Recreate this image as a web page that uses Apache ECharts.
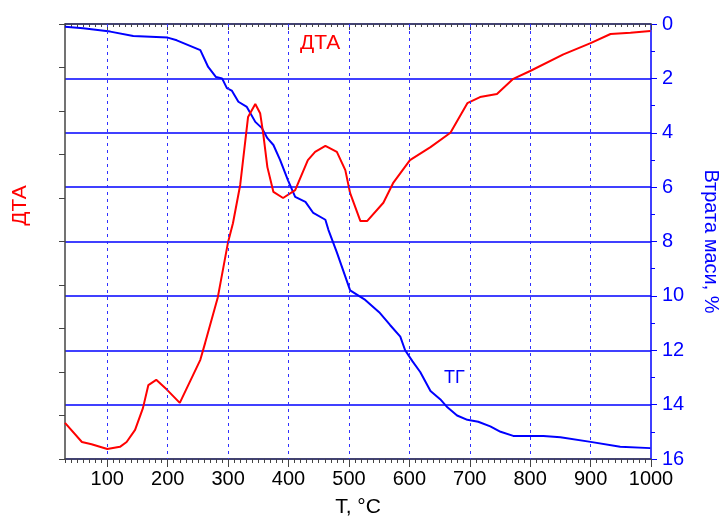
<!DOCTYPE html>
<html lang="uk" style="height: 100%">
<head>
  <meta charset="utf-8">
</head>
<body style="height: 100%; margin: 0; background: #fff">
  <div id="container" style="width: 721px; height: 517px"></div>

  <script type="text/javascript" src="https://cdn.jsdelivr.net/npm/echarts@6/dist/echarts.min.js"></script>

  <script type="text/javascript">
    // TG: mass loss, % (right axis, inverted)
    var tgTemp = [30, 60, 105, 143, 200, 215, 254, 267, 280, 290, 298, 306, 317, 331, 345, 356, 365, 375, 386, 399,
      411, 428, 441, 461, 466, 480, 502, 527, 550, 568, 585, 593, 605, 618, 635, 651, 663, 679, 696, 714,
      734, 751, 772, 822, 850, 900, 949, 999];
    var tgLoss = [0.1, 0.16, 0.28, 0.44, 0.5, 0.6, 0.96, 1.58, 1.95, 2.0, 2.36, 2.45, 2.86, 3.05, 3.6, 3.83, 4.2, 4.45, 5.0, 5.74,
      6.36, 6.54, 6.95, 7.2, 7.57, 8.4, 9.8, 10.15, 10.6, 11.07, 11.5, 12.0, 12.4, 12.8, 13.5, 13.8, 14.1, 14.4, 14.56, 14.63,
      14.8, 15.0, 15.15, 15.15, 15.2, 15.37, 15.55, 15.6];

    // DTA signal (left axis, arbitrary units)
    var dtaTemp = [30, 58, 74, 100, 121, 132, 146, 159, 168, 181, 199, 220, 254, 262, 283, 300, 308, 320, 333, 345,
      353, 358, 365, 375, 391, 411, 432, 444, 461, 480, 494, 502, 519, 530, 557, 573, 601, 635, 668, 696,
      717, 745, 772, 800, 855, 900, 933, 966, 999];
    var dtaVal = [0.83, 0.39, 0.34, 0.23, 0.28, 0.39, 0.67, 1.17, 1.7, 1.82, 1.59, 1.29, 2.28, 2.67, 3.72, 4.99, 5.42, 6.3, 7.86, 8.16,
      7.95, 7.49, 6.71, 6.14, 6.0, 6.18, 6.87, 7.06, 7.2, 7.06, 6.64, 6.11, 5.47, 5.47, 5.89, 6.34, 6.87, 7.17, 7.5, 8.18,
      8.32, 8.39, 8.74, 8.92, 9.3, 9.56, 9.77, 9.8, 9.84];

    var majorTemps = [100, 200, 300, 400, 500, 600, 700, 800, 900, 1000];
    var vGrid = [100, 200, 300, 400, 500, 600, 700, 800, 900];

    var FONT = '"Liberation Sans", Arial, sans-serif';
    var BLUE = '#0000ff';
    var RED = '#ff0000';

    function zip(a, b) {
      return a.map(function (v, i) { return [v, b[i]]; });
    }

    // bare x axis used only for tick marks
    function tickAxis(pos, inside, len, values) {
      var ax = {
        type: 'value', position: pos, min: 30, max: 1000, interval: 10,
        axisLine: { show: false },
        axisTick: { show: true, inside: inside, length: len, lineStyle: { color: '#444' } },
        axisLabel: { show: false },
        splitLine: { show: false }
      };
      if (values) ax.axisTick.customValues = values;
      return ax;
    }

    var chart = echarts.init(document.getElementById('container'), null, { renderer: 'canvas' });

    var option = {
      animation: false,
      grid: { left: 65, top: 24, right: 70, bottom: 58, containLabel: false, outerBoundsMode: 'none' },
      xAxis: [
        {
          type: 'value', position: 'bottom', min: 30, max: 1000, interval: 10,
          name: 'T, °C', nameLocation: 'middle', nameGap: 38,
          nameTextStyle: { color: '#000', fontSize: 21, fontFamily: FONT },
          axisLine: { lineStyle: { color: '#444', width: 1.5 } },
          axisTick: { length: 4, lineStyle: { color: '#444' } },
          axisLabel: {
            color: '#000', fontSize: 20, fontFamily: FONT, margin: 10,
            formatter: function (v) { return v % 100 === 0 ? String(v) : ''; }
          },
          splitLine: { show: false }
        },
        {
          type: 'value', position: 'top', min: 30, max: 1000, interval: 10,
          axisLine: { lineStyle: { color: '#444', width: 1.5 } },
          axisTick: { inside: true, length: 3, lineStyle: { color: '#444' } },
          axisLabel: { show: false },
          splitLine: { show: false }
        },
        tickAxis('bottom', false, 8, majorTemps),
        tickAxis('top', true, 6, majorTemps)
      ],
      yAxis: [
        {
          type: 'value', position: 'left', min: 0, max: 10, interval: 1,
          name: 'ДТА', nameLocation: 'middle', nameGap: 34, nameRotate: 90,
          nameTextStyle: { color: RED, fontSize: 21, fontFamily: FONT, padding: [0, 0, 0, 72] },
          axisLine: { show: true, lineStyle: { color: '#444', width: 1.5 } },
          axisTick: { show: true, length: 6, lineStyle: { color: '#444' } },
          axisLabel: { show: false },
          splitLine: { show: false }
        },
        {
          type: 'value', position: 'right', min: 0, max: 16, interval: 2, inverse: true,
          name: 'Втрата маси, %', nameLocation: 'middle', nameGap: 50, nameRotate: -90,
          nameTextStyle: { color: BLUE, fontSize: 20, fontFamily: FONT },
          axisLine: { show: true, lineStyle: { color: BLUE, width: 1.5 } },
          axisTick: { show: true, length: 6, lineStyle: { color: BLUE } },
          minorTick: { show: true, splitNumber: 2, length: 4, lineStyle: { color: BLUE } },
          axisLabel: { color: BLUE, fontSize: 20, fontFamily: FONT, margin: 11 },
          splitLine: { show: true, lineStyle: { color: BLUE, width: 1.5 } }
        }
      ],
      series: [
        {
          name: 'ТГ', type: 'line', xAxisIndex: 0, yAxisIndex: 1,
          data: zip(tgTemp, tgLoss), showSymbol: false, symbol: 'none',
          lineStyle: { color: BLUE, width: 2 }, z: 3,
          markLine: {
            silent: true, symbol: 'none', animation: false,
            label: { show: false },
            lineStyle: { color: '#3030ff', width: 1, type: [3, 4] },
            data: vGrid.map(function (v) { return { xAxis: v }; })
          }
        },
        {
          name: 'ДТА', type: 'line', xAxisIndex: 0, yAxisIndex: 0,
          data: zip(dtaTemp, dtaVal), showSymbol: false, symbol: 'none',
          lineStyle: { color: RED, width: 2 }, z: 4
        }
      ],
      graphic: [
        { type: 'text', left: 300, top: 33, style: { text: 'ДТА', fill: RED, font: '21px ' + FONT } },
        { type: 'text', left: 444, top: 369, style: { text: 'ТГ', fill: BLUE, font: '18px ' + FONT } }
      ]
    };

    chart.setOption(option);
  </script>
</body>
</html>
